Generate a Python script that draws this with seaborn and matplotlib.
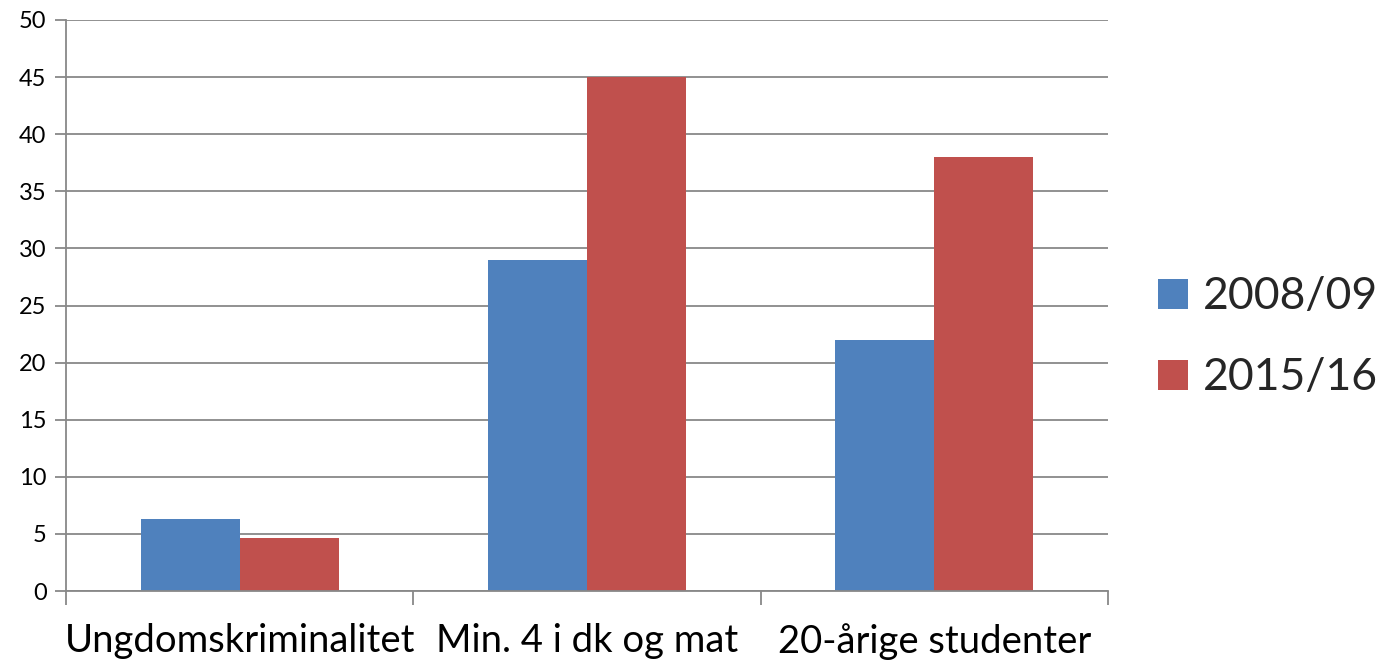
import matplotlib
matplotlib.use("Agg")
import matplotlib.pyplot as plt
import seaborn as sns
import pandas as pd
from matplotlib.ticker import FixedLocator

categories = ["Ungdomskriminalitet", "Min. 4 i dk og mat", "20-årige studenter"]
series_names = ["2008/09", "2015/16"]
values_2008 = [6.3, 29, 22]
values_2015 = [4.6, 45, 38]
y_ticks = list(range(0, 51, 5))

df = pd.DataFrame({
    "cat": categories * 2,
    "series": [series_names[0]] * 3 + [series_names[1]] * 3,
    "value": values_2008 + values_2015,
})

sns.set_theme(style="white")
plt.rcParams['font.family'] = ['Lato', 'DejaVu Sans']

W, H = 1387, 660
fig = plt.figure(figsize=(W / 100, H / 100), dpi=100)
ax = fig.add_axes([66 / W, 1 - 591 / H, (1108 - 66) / W, (591 - 20) / H])

palette = {series_names[0]: "#4F81BD", series_names[1]: "#C0504D"}
sns.barplot(data=df, x="cat", y="value", hue="series", palette=palette,
            width=0.57, saturation=1, ax=ax, legend=True, linewidth=0)

ax.set_xlim(-0.5, 2.5)
ax.set_ylim(0, 50)
ax.set_yticks(y_ticks)
ax.set_yticklabels([str(t) for t in y_ticks], fontsize=17, color="black")
ax.yaxis.grid(True, color="#888888", linewidth=1.3)
ax.set_axisbelow(True)
ax.set_xlabel("")
ax.set_ylabel("")

ax.set_xticks([0, 1, 2])
ax.set_xticklabels(categories, fontsize=27.5, color="black")
ax.tick_params(axis="x", which="major", length=0, pad=23)
ax.xaxis.set_minor_locator(FixedLocator([-0.5, 0.5, 1.5, 2.5]))
ax.tick_params(axis="x", which="minor", length=10, width=1.3, color="#888888", bottom=True)
ax.tick_params(axis="y", length=8, width=1.3, color="#888888", left=True, pad=6)

for s in ["top", "right"]:
    ax.spines[s].set_visible(False)
for s in ["left", "bottom"]:
    ax.spines[s].set_color("#888888")
    ax.spines[s].set_linewidth(1.3)

leg = ax.legend(loc="center left", bbox_to_anchor=(1.048, 0.444),
                bbox_transform=ax.transAxes, frameon=False, borderpad=0, borderaxespad=0,
                fontsize=32, handlelength=0.68, handleheight=0.68, handletextpad=0.34,
                labelspacing=0.9)

fig.savefig("out.png", dpi=100)
